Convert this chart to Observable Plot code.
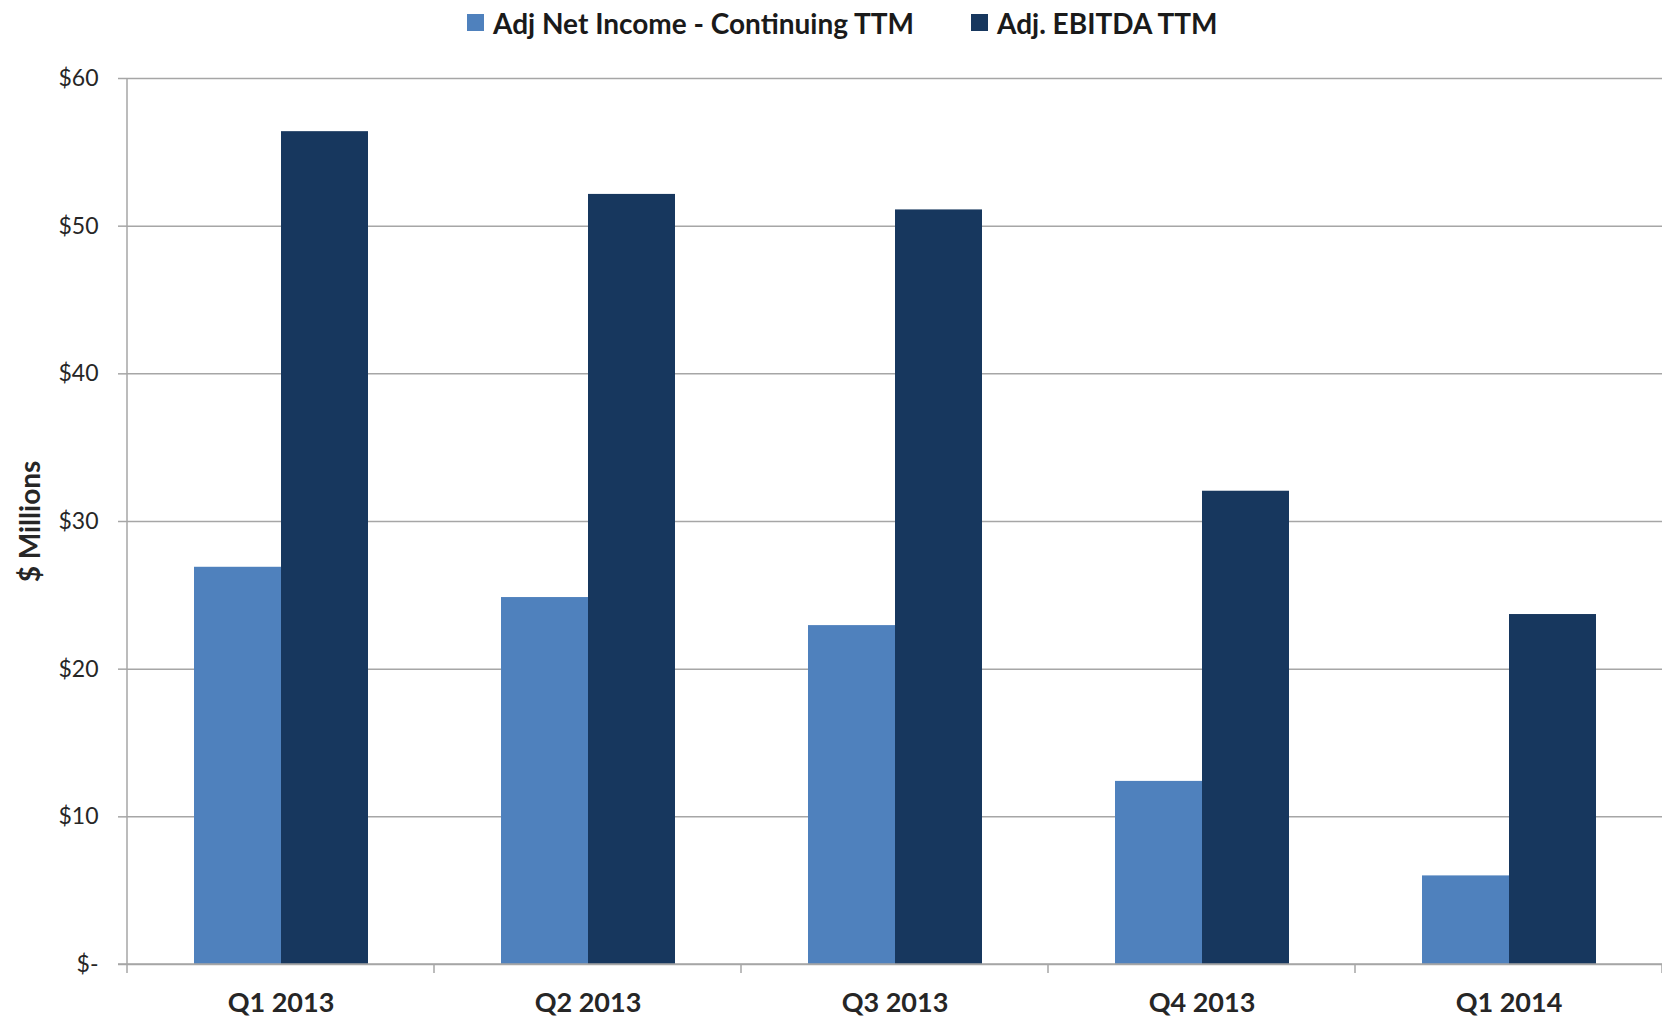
<!DOCTYPE html>
<html>
<head>
<meta charset="utf-8">
<script src="https://cdn.jsdelivr.net/npm/d3@7"></script>
<script src="https://cdn.jsdelivr.net/npm/@observablehq/plot@0.6"></script>
<style>
  html, body { margin: 0; padding: 0; background: #fff; }
  body { width: 1662px; height: 1020px; overflow: hidden; font-family: Lato, "Open Sans", sans-serif; }
  #legend { height: 45px; display: flex; align-items: center; padding-left: 467px; box-sizing: border-box; font-weight: bold; font-size: 28px; color: #1a1a1a; }
  .item { display: flex; align-items: center; margin-right: 57px; }
  .sw { width: 17px; height: 17px; margin-right: 9px; }
  svg { display: block; }
</style>
</head>
<body>
<div id="legend"></div>
<div id="chart"></div>
<script>
const quarters = ["Q1 2013", "Q2 2013", "Q3 2013", "Q4 2013", "Q1 2014"];
const seriesNames = ["Adj Net Income - Continuing TTM", "Adj. EBITDA TTM"];
const netIncome = [26.9, 24.85, 22.95, 12.4, 6.0];
const ebitda = [56.4, 52.15, 51.1, 32.05, 23.7];
const yTicks = [0, 10, 20, 30, 40, 50, 60];
const yTickLabels = ["$-", "$10", "$20", "$30", "$40", "$50", "$60"];
const seriesColors = ["#4F81BD", "#17375E"];

const rows = [];
quarters.forEach((q, i) => {
  rows.push({quarter: q, series: seriesNames[0], value: netIncome[i]});
  rows.push({quarter: q, series: seriesNames[1], value: ebitda[i]});
});

// legend
const legend = d3.select("#legend");
seriesNames.forEach((s, i) => {
  const it = legend.append("div").attr("class", "item");
  it.append("div").attr("class", "sw").style("background", seriesColors[i]);
  it.append("span").text(s);
});

const gridColor = "#a6a6a6";
const chart = Plot.plot({
  width: 1662,
  height: 975,
  marginTop: 33,
  marginBottom: 56,
  marginLeft: 127,
  marginRight: 0,
  style: {fontFamily: "Lato, 'Open Sans', sans-serif", color: "#262626", background: "#fff"},
  fx: {domain: quarters, padding: 0, label: null},
  x: {domain: seriesNames, paddingInner: 0, paddingOuter: 0.745, axis: null},
  y: {domain: [0, 60], label: null},
  color: {domain: seriesNames, range: seriesColors},
  marks: [
    Plot.ruleY(yTicks, {stroke: gridColor, strokeWidth: 1.5}),
    Plot.barY(rows, {fx: "quarter", x: "series", y: "value", fill: "series"}),
    Plot.axisY({
      ticks: yTicks,
      tickFormat: (d) => yTickLabels[yTicks.indexOf(d)],
      tickSize: 9,
      tickPadding: 20,
      stroke: gridColor,
      strokeWidth: 1.5,
      strokeOpacity: 1,
      fontSize: 23,
      label: "$ Millions",
      labelAnchor: "center",
      labelArrow: "none",
      labelOffset: 107
    }),
    Plot.axisFx({
      anchor: "bottom",
      tickSize: 0,
      tickPadding: 28,
      fontSize: 27,
      fontWeight: "bold",
      label: null
    })
  ]
});
document.getElementById("chart").appendChild(chart);

// axis line and category separators drawn from the library's scales
const fx = chart.scale("fx");
const ys = chart.scale("y");
const y0 = ys.apply(0), yTop = ys.apply(60);
const bounds = quarters.map(q => fx.apply(q)).concat([fx.apply(quarters[quarters.length - 1]) + fx.bandwidth]);
const svg = d3.select(chart);
const g = svg.append("g").attr("stroke", gridColor).attr("stroke-width", 1.5);
g.append("line").attr("x1", bounds[0]).attr("x2", bounds[0]).attr("y1", yTop).attr("y2", y0 + 9);
bounds.slice(1).forEach(b => {
  g.append("line").attr("x1", b).attr("x2", b).attr("y1", y0).attr("y2", y0 + 9);
});
g.append("line").attr("x1", bounds[0] - 9).attr("x2", bounds[bounds.length - 1]).attr("y1", y0).attr("y2", y0);

// style axis label
svg.selectAll("[aria-label='y-axis label'] text, g[aria-label='y-axis label']").attr("font-weight", "bold").attr("font-size", 28);
</script>
</body>
</html>
